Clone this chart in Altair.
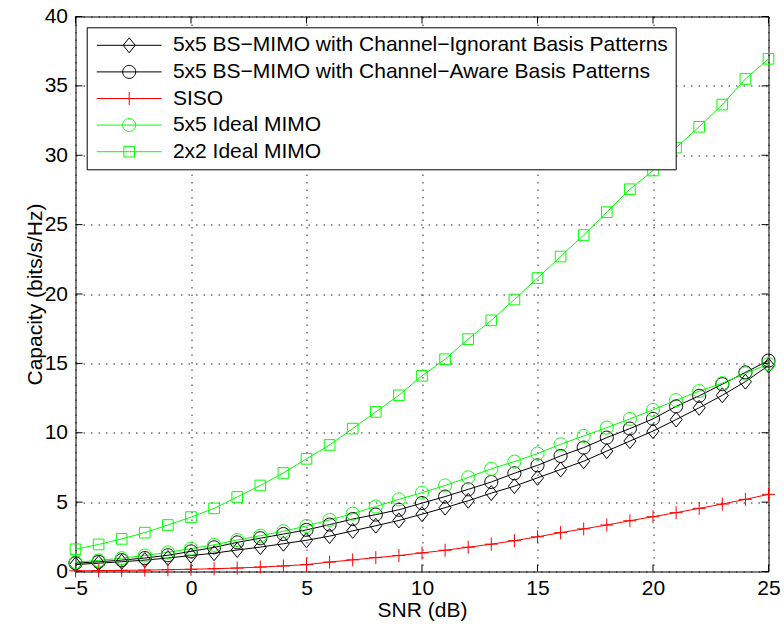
import altair as alt
import pandas as pd

# ---------------- data ----------------
snr = list(range(-5, 26))

series_names = [
    "5x5 BS\u2212MIMO with Channel\u2212Ignorant Basis Patterns",
    "5x5 BS\u2212MIMO with Channel\u2212Aware Basis Patterns",
    "SISO",
    "5x5 Ideal MIMO",
    "2x2 Ideal MIMO",
]

ignorant = [0.50, 0.60, 0.70, 0.82, 0.97, 1.15, 1.32, 1.55, 1.76, 2.00, 2.25,
            2.55, 2.93, 3.30, 3.68, 4.13, 4.60, 5.10, 5.65, 6.15, 6.75, 7.35,
            7.95, 8.68, 9.40, 10.12, 10.95, 11.80, 12.70, 13.68, 14.85]
aware = [0.60, 0.70, 0.82, 0.97, 1.17, 1.45, 1.74, 2.10, 2.40, 2.70, 3.00,
         3.38, 3.78, 4.10, 4.45, 4.93, 5.40, 5.92, 6.45, 7.08, 7.65, 8.33,
         8.93, 9.65, 10.30, 11.00, 11.90, 12.66, 13.50, 14.35, 15.20]
siso = [0.05, 0.06, 0.08, 0.10, 0.13, 0.16, 0.20, 0.25, 0.32, 0.40, 0.50,
        0.68, 0.84, 1.00, 1.15, 1.34, 1.53, 1.75, 1.97, 2.22, 2.50, 2.80,
        3.07, 3.35, 3.66, 3.95, 4.24, 4.55, 4.86, 5.20, 5.56]
ideal5 = [0.67, 0.80, 0.96, 1.15, 1.38, 1.65, 1.92, 2.27, 2.58, 2.90, 3.28,
          3.72, 4.17, 4.68, 5.20, 5.68, 6.20, 6.78, 7.40, 7.92, 8.50, 9.17,
          9.77, 10.37, 11.00, 11.65, 12.35, 13.00, 13.57, 14.27, 14.95]
ideal2 = [1.60, 1.95, 2.35, 2.80, 3.35, 3.92, 4.55, 5.37, 6.20, 7.10, 8.12,
          9.12, 10.30, 11.50, 12.70, 14.10, 15.30, 16.75, 18.10, 19.60, 21.15,
          22.70, 24.25, 25.90, 27.55, 28.90, 30.55, 32.05, 33.65, 35.50, 36.95]

x_ticks = [-5, 0, 5, 10, 15, 20, 25]
y_ticks = [0, 5, 10, 15, 20, 25, 30, 35, 40]

colors = ["#000000", "#000000", "#ff0000", "#00ff00", "#00ff00"]

# marker outlines (unit = sqrt(size)/2 = 7 px)
marker_paths = [
    "M0,-1.07L0.86,0L0,1.07L-0.86,0Z",
    "M-0.93,0A0.93,0.93,0,1,0,0.93,0A0.93,0.93,0,1,0,-0.93,0Z",
    "M-0.93,0H0.93M0,-0.93V0.93",
    "M-0.93,0A0.93,0.93,0,1,0,0.93,0A0.93,0.93,0,1,0,-0.93,0Z",
    "M-0.76,-0.76H0.76V0.76H-0.76Z",
]
legend_paths = ["M-4.64,0H4.64" + p for p in marker_paths]

rows = []
for name, vals in zip(series_names, [ignorant, aware, siso, ideal5, ideal2]):
    for s, v in zip(snr, vals):
        rows.append({"snr": s, "cap": v, "series": name})
df = pd.DataFrame(rows)

xt = pd.DataFrame({"snr": x_ticks})
yt = pd.DataFrame({"cap": y_ticks})

FONT = "Liberation Sans"
W, H = 693, 555

xs = alt.Scale(domain=[-5, 25], nice=False, zero=False)
ys = alt.Scale(domain=[0, 40], nice=False, zero=False)

x_axis = alt.Axis(values=x_ticks, title="SNR (dB)", grid=True,
                  gridDash=[1.5, 6], gridColor="#000000", gridOpacity=0.85,
                  gridWidth=1, ticks=False, tickSize=0, domain=False,
                  labelFont=FONT, labelFontSize=21, labelColor="#000000",
                  labelPadding=6, labelFlush=False, labelOverlap=False,
                  titleFont=FONT, titleFontSize=21, titleFontWeight="normal",
                  titleColor="#000000", titleY=39, titleBaseline="middle")
y_axis = alt.Axis(values=y_ticks, title="Capacity (bits/s/Hz)", grid=True,
                  gridDash=[1.5, 6], gridColor="#000000", gridOpacity=0.85,
                  gridWidth=1, ticks=False, tickSize=0, domain=False,
                  labelFont=FONT, labelFontSize=21, labelColor="#000000",
                  labelPadding=8, labelFlush=False, labelOverlap=False,
                  titleFont=FONT, titleFontSize=21, titleFontWeight="normal",
                  titleColor="#000000", titleAngle=270, titleX=-40,
                  titleY=H / 2, titleBaseline="middle", titleAlign="center")

x_enc = alt.X("snr:Q", scale=xs, axis=x_axis)
y_enc = alt.Y("cap:Q", scale=ys, axis=y_axis)

color_scale = alt.Scale(domain=series_names, range=colors)

lines = alt.Chart(df).mark_line(strokeWidth=1).encode(
    x=x_enc, y=y_enc,
    color=alt.Color("series:N", scale=color_scale, legend=None),
    detail="series:N",
)

points = alt.Chart(df).mark_point(filled=False, size=196, strokeWidth=1, opacity=1).encode(
    x=x_enc, y=y_enc,
    color=alt.Color("series:N", scale=color_scale, legend=None),
    shape=alt.Shape("series:N", scale=alt.Scale(domain=series_names, range=marker_paths), legend=None),
)

leg_props = dict(title=None, orient="none", legendX=11.2, legendY=10.8,
                 labelFont=FONT, labelFontSize=21, labelColor="#000000",
                 labelLimit=700, labelOffset=33.2, symbolOffset=24.5,
                 rowPadding=4.6,
                 symbolSize=196, symbolStrokeWidth=1, symbolOpacity=1,
                 symbolFillColor="transparent",
                 strokeColor="#000000", fillColor="#ffffff", padding=7.5,
                 cornerRadius=0)

legend_layer = alt.Chart(df).mark_point(filled=False, size=196, opacity=0).encode(
    x=x_enc, y=y_enc,
    color=alt.Color("series:N", scale=color_scale, legend=alt.Legend(**leg_props)),
    shape=alt.Shape("series:N", scale=alt.Scale(domain=series_names, range=legend_paths),
                    legend=alt.Legend(**leg_props)),
)

TL = 7
tick_bottom = alt.Chart(xt).mark_rule(color="#000000", strokeWidth=1).encode(
    x=x_enc, y=alt.value(H), y2=alt.value(H - TL))
tick_top = alt.Chart(xt).mark_rule(color="#000000", strokeWidth=1).encode(
    x=x_enc, y=alt.value(0), y2=alt.value(TL))
tick_left = alt.Chart(yt).mark_rule(color="#000000", strokeWidth=1).encode(
    y=y_enc, x=alt.value(0), x2=alt.value(TL))
tick_right = alt.Chart(yt).mark_rule(color="#000000", strokeWidth=1).encode(
    y=y_enc, x=alt.value(W - TL), x2=alt.value(W))

chart = alt.layer(
    tick_bottom, tick_top, tick_left, tick_right, lines, points, legend_layer
).resolve_scale(
    color="independent", shape="independent"
).properties(
    width=W, height=H,
    padding={"left": 75.5, "top": 16.5, "right": 15.5, "bottom": 56.5},
    autosize="none",
    background="#ffffff",
).configure_view(
    stroke="#000000", strokeWidth=1
)

chart.save("out.html", embed_options={"renderer": "svg", "actions": False})
